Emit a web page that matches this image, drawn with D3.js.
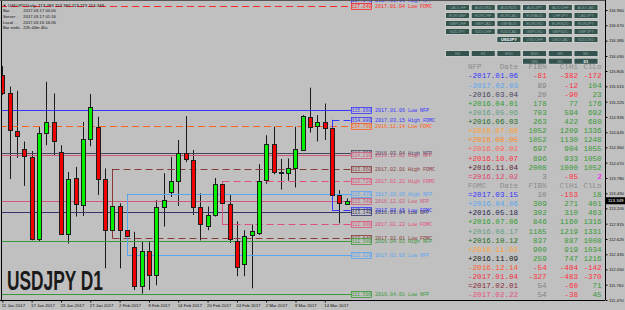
<!DOCTYPE html>
<html><head><meta charset="utf-8">
<script src="https://cdn.jsdelivr.net/npm/d3@7"></script>
<style>html,body{margin:0;padding:0;background:#c0c0c0;overflow:hidden}svg{display:block}</style>
</head><body>
<svg id="c" width="625" height="310"></svg>
<script>
// ---------- DATA ----------
const dates = ["2017-01-11","2017-01-12","2017-01-13","2017-01-16","2017-01-17","2017-01-18","2017-01-19","2017-01-20","2017-01-23","2017-01-24","2017-01-25","2017-01-26","2017-01-27","2017-01-30","2017-01-31",
"2017-02-01","2017-02-02","2017-02-03","2017-02-06","2017-02-07","2017-02-08","2017-02-09","2017-02-10","2017-02-13","2017-02-14","2017-02-15","2017-02-16","2017-02-17","2017-02-20","2017-02-21","2017-02-22","2017-02-23","2017-02-24","2017-02-27","2017-02-28",
"2017-03-01","2017-03-02","2017-03-03","2017-03-06","2017-03-07","2017-03-08","2017-03-09","2017-03-10","2017-03-13","2017-03-14","2017-03-15","2017-03-16","2017-03-17"];
const open  = [115.73,115.39,114.67,114.33,114.18,112.62,114.63,114.84,114.28,112.72,113.78,113.27,114.51,114.75,113.76,112.79,113.25,112.79,112.48,111.73,112.40,111.94,113.24,113.51,113.72,114.25,114.12,113.24,112.87,113.08,113.66,113.28,112.59,112.15,112.70,112.73,113.74,114.42,113.89,113.88,113.96,114.31,114.94,114.76,114.84,114.72,113.46,113.293];
const high  = [115.90,115.51,115.43,114.47,114.29,114.75,115.60,115.38,114.40,113.89,113.99,114.84,115.37,114.94,113.96,113.95,113.30,113.47,112.76,112.57,112.57,113.36,113.87,114.18,114.50,114.95,114.31,113.49,113.24,113.78,113.72,113.46,112.96,112.79,112.90,114.04,114.59,114.75,114.14,114.15,114.75,114.97,115.49,114.97,115.19,114.88,113.55,113.392];
const low   = [115.35,113.76,114.16,113.63,112.60,112.57,114.40,114.20,112.70,112.54,113.05,113.06,114.38,113.46,112.07,112.64,112.07,112.32,111.66,111.59,111.66,111.75,112.86,113.42,113.25,114.08,113.08,112.60,112.79,113.05,112.90,112.55,111.92,111.92,111.69,112.70,113.67,113.85,113.56,113.73,113.60,114.29,114.64,114.47,114.50,113.17,112.92,113.273];
const close = [115.39,114.69,114.57,114.20,112.62,114.64,114.84,114.48,112.71,113.77,113.28,114.51,115.12,113.77,112.79,113.25,112.79,112.69,111.73,112.40,111.94,113.24,113.36,113.72,114.25,114.14,113.24,112.91,113.08,113.66,113.30,112.62,112.10,112.69,112.78,113.72,114.42,113.90,113.88,113.96,114.32,114.95,114.75,114.84,114.73,113.46,113.30,113.349];

const xTickDates = ["2017-01-11","2017-01-17","2017-01-23","2017-01-27","2017-02-02","2017-02-08","2017-02-14","2017-02-20","2017-02-24","2017-03-02","2017-03-08","2017-03-14"];
const yTicks = [116.960,116.670,116.380,116.090,115.805,115.515,115.225,114.935,114.645,114.360,114.070,113.780,113.490,113.205,112.915,112.625,112.335,112.050,111.760,111.470];
const lastPrice = 113.349;

// event level lines
const lineNames  = ["2017.01.06 High NFP","2017.01.04 Low FOMC","2017.01.06 Low NFP","2017.03.15 High FOMC","2016.12.14 Low FOMC","2016.03.04 High NFP","2016.12.02 High NFP","2017.02.01 High FOMC","2017.02.22 High FOMC","2017.02.03 High NFP","2016.12.02 Low NFP","2017.03.15 Low FOMC","2016.03.04 Low NFP","2017.02.22 Low FOMC","2017.02.01 Low FOMC","2016.04.01 High NFP","2017.02.03 Low NFP","2016.04.01 Low NFP"];
const linePrices = [117.14,117.04,115.06,114.88,114.76,114.25,114.21,113.95,113.72,113.47,113.34,113.17,113.14,112.90,112.64,112.58,112.32,111.59];
const lineStart  = [null,null,null,"2017-03-15",null,null,null,"2017-02-01","2017-02-22","2017-02-03",null,"2017-03-15",null,"2017-02-22","2017-02-01",null,"2017-02-03",null];
// styles for lines
const lineColors = ["#3535ff","#ff2a2a","#3535ff","#3535ff","#ff6420","#45455f","#d05878","#8b3a3a","#e0507a","#5aa5f0","#d05878","#3535ff","#34346a","#e0507a","#8b3a3a","#3a9a3a","#5aa5f0","#3a9a3a"];
const lineDashed = [false,true,false,true,true,false,false,true,true,false,false,true,false,true,true,false,false,false];

// table
const nfpDates  = ["-2017.01.06","-2017.02.03","-2016.03.04","+2016.04.01","+2016.05.06","+2016.06.03","+2016.07.08","+2016.08.05","+2016.09.02","+2016.10.07","+2016.11.04","=2016.12.02"];
const nfpFib    = [-81,89,20,178,703,263,1052,1052,697,896,2008,3];
const nfpClHi   = [-382,-12,-90,77,594,422,1209,1130,904,933,1000,-85];
const nfpClLo   = [-172,104,23,176,692,680,1336,1248,1055,1050,1052,2];
const fomcDates = ["=2017.03.15","+2016.04.06","+2016.05.18","+2016.07.06","+2016.08.17","+2016.10.12","+2016.11.02","+2016.11.09","-2016.12.14","-2017.01.04","=2017.02.01","-2017.02.22"];
const fomcFib   = [10,309,302,846,1185,837,900,259,-54,-327,54,54];
const fomcClHi  = [-153,271,310,1160,1219,887,919,747,-404,-483,-60,-38];
const fomcClLo  = [18,401,463,1316,1331,1008,1034,1216,-142,-370,71,45];
const tableHeaders = ["Date","FIB%","ClHi","ClLo"];
// colors of the date entries
const nfpColors  = ["#3535ff","#5aa5f0","#45455f","#2e9e2e","#5f9f7f","#1f6f1f","#ffa030","#ff8c1a","#ff6a5a","#ff3040","#5a2838","#e0406a"];
const fomcColors = ["#3535ff","#5aa5f0","#2a2a50","#2e9e2e","#5f9f7f","#1f6f1f","#ffa030","#1a1a1a","#ff5a30","#f03040","#8b2a3a","#e8507a"];

// buttons
const pairRows = [["CADCHF","AUDUSD","AUDNZD","AUDJPY","AUDCHF","AUDCAD"],["EURGBP","EURCHF","EURCAD","EURAUD","CHFJPY","CADJPY"],["GBPCHF","GBPCAD","GBPAUD","EURUSD","EURNZD","EURJPY"],["NZDJPY","NZDCHF","NZDCAD","GBPUSD","GBPNZD","GBPJPY"],[null,null,"USDJPY","USDCHF","USDCAD","NZDUSD"]];
const tfRows = [["H4","H1","M30","M15","M5","M1"],[null,null,null,"MN","W1","D1"]];
const selected = ["USDJPY","D1"];

const headerLine = "USDJPY,Daily: 113.293 113.392 113.273 113.349";
const infoKeys = ["Bar","Server","Local","Bar ends"];
const infoVals = ["2017.03.17 00:00","2017.03.17 01:16","2017.03.16 16:05","22h 44m 40s"];

// ---------- DRAW ----------
const svg = d3.select("#c");
const W = 625, H = 310;
const plotL = 1.5, plotR = 605, plotT = 0, plotB = 300;
svg.append("rect").attr("width", W).attr("height", H).attr("fill", "#c0c0c0");

const x = d3.scalePoint().domain(dates).range([2.3, 346.8]);
const y = d3.scaleLinear().domain([111.47, 116.96]).range([300, 10]);
const parse = d3.timeParse("%Y-%m-%d");
const fmtDate = d3.timeFormat("%-d %b %Y");

svg.append("defs").append("clipPath").attr("id", "clip")
  .append("rect").attr("x", plotL + 0.5).attr("y", plotT).attr("width", plotR - plotL - 0.5).attr("height", plotB - plotT);
const plot = svg.append("g").attr("clip-path", "url(#clip)");

const px = d => Math.round(x(d)) + 0.5;
const bars = dates.map((d, i) => ({d, o: open[i], h: high[i], l: low[i], c: close[i]}));

// wicks
plot.append("g").selectAll("line").data(bars).join("line")
  .attr("x1", b => px(b.d)).attr("x2", b => px(b.d))
  .attr("y1", b => y(b.h)).attr("y2", b => y(b.l))
  .attr("stroke", "#1a1a1a").attr("stroke-width", 1);

// event lines
const lines = lineNames.map((n, i) => ({n, p: linePrices[i], s: lineStart[i], col: lineColors[i], dash: lineDashed[i]}));
const lineEnd = 351;
plot.append("g").selectAll("line").data(lines).join("line")
  .attr("x1", l => l.s ? px(l.s) : 0).attr("x2", lineEnd)
  .attr("y1", l => Math.round(y(l.p)) + 0.5).attr("y2", l => Math.round(y(l.p)) + 0.5)
  .attr("stroke", l => l.col).attr("stroke-width", 1)
  .attr("stroke-dasharray", l => l.dash ? "7,4" : null);
// connectors for events inside the chart
const groups = d3.groups(lines.filter(l => l.s), l => l.s);
plot.append("g").selectAll("line").data(groups).join("line")
  .attr("x1", g => px(g[0])).attr("x2", g => px(g[0]))
  .attr("y1", g => Math.round(y(d3.max(g[1], l => l.p))) + 0.5)
  .attr("y2", g => Math.round(y(d3.min(g[1], l => l.p))) + 0.5)
  .attr("stroke", g => g[1][0].col).attr("stroke-width", 1);

// bodies
plot.append("g").selectAll("rect").data(bars).join("rect")
  .attr("x", b => Math.round(x(b.d)) - 1.5).attr("width", 4)
  .attr("y", b => Math.round(y(Math.max(b.o, b.c))) + 0.5)
  .attr("height", b => Math.max(0.01, Math.round(y(Math.min(b.o, b.c))) - Math.round(y(Math.max(b.o, b.c)))))
  .attr("fill", b => b.c > b.o ? "#00f000" : (b.c < b.o ? "#f00000" : "#000"))
  .attr("stroke", "#1e1e1e").attr("stroke-width", 1);

// line labels
const lab = plot.append("g").selectAll("g").data(lines).join("g")
  .attr("transform", l => `translate(0,${Math.round(y(l.p)) + 0.5})`);
lab.append("rect").attr("x", 351.5).attr("y", -3).attr("width", 20).attr("height", 6)
  .attr("fill", "#c0c0c0").attr("stroke", l => l.col).attr("stroke-width", 0.8);
lab.append("text").attr("x", 361.5).attr("y", 1.7).attr("text-anchor", "middle")
  .attr("font-family", "Liberation Mono, monospace").attr("font-size", 4.6)
  .attr("fill", l => l.col).text(l => d3.format(".3f")(l.p));
lab.append("text").attr("x", 375).attr("y", 1.7)
  .attr("font-family", "Liberation Mono, monospace").attr("font-size", 5)
  .attr("fill", l => l.col).text(l => l.n);

// big symbol text
svg.append("text").attr("x", 7).attr("y", 290)
  .attr("font-family", "Liberation Sans, Arial, sans-serif").attr("font-weight", "bold")
  .attr("font-size", 27).attr("textLength", 96).attr("lengthAdjust", "spacingAndGlyphs")
  .attr("fill", "#1a1a1a").text("USDJPY D1");

// header info
const hdr = svg.append("g").attr("font-family", "Liberation Sans, Arial, sans-serif").attr("font-size", 4.2).attr("fill", "#111");
hdr.append("text").attr("x", 2.5).attr("y", 7).attr("font-size", 4).text("▼");
hdr.append("text").attr("x", 8).attr("y", 7).attr("textLength", 96).attr("lengthAdjust", "spacingAndGlyphs").text(headerLine);
infoKeys.forEach((k, i) => {
  const yy = 12.3 + i * 5.6;
  hdr.append("text").attr("x", 3).attr("y", yy).text(k);
  hdr.append("text").attr("x", 3 + k.length * 2.2).attr("y", yy).attr("fill", "#888").text(".".repeat(Math.max(2, 9 - k.length)));
  hdr.append("text").attr("x", 23.3).attr("y", yy).text(infoVals[i]);
});

// frame
svg.append("line").attr("x1", plotL).attr("x2", plotL).attr("y1", 0).attr("y2", plotB).attr("stroke", "#000");
svg.append("line").attr("x1", 0).attr("x2", plotR).attr("y1", 0.5).attr("y2", 0.5).attr("stroke", "#555");

// y axis
const yAxis = svg.append("g").attr("transform", `translate(${plotR + 0.5},0)`)
  .call(d3.axisRight(y).tickValues(yTicks).tickFormat(d3.format(".3f")).tickSize(2).tickPadding(1.5));
yAxis.select(".domain").attr("stroke", "#000").attr("d", `M0,0V${plotB}`);
yAxis.selectAll(".tick line").attr("stroke", "#000");
yAxis.selectAll(".tick text").attr("font-family", "Liberation Sans, Arial, sans-serif").attr("font-size", 4.2).attr("fill", "#111");
// current price box
const cy = y(lastPrice);
svg.append("rect").attr("x", plotR + 1).attr("y", cy - 3.5).attr("width", 19).attr("height", 7).attr("fill", "#000");
svg.append("text").attr("x", plotR + 3).attr("y", cy + 1.6).attr("font-family", "Liberation Sans, Arial, sans-serif")
  .attr("font-size", 4.4).attr("fill", "#fff").text(d3.format(".3f")(lastPrice));

// x axis
const xAxis = svg.append("g").attr("transform", `translate(0,${plotB + 0.5})`)
  .call(d3.axisBottom(x).tickValues(xTickDates).tickFormat(d => fmtDate(parse(d))).tickSize(2).tickPadding(1));
xAxis.select(".domain").attr("stroke", "#000").attr("d", `M0,0H${plotR}`);
xAxis.selectAll(".tick line").attr("stroke", "#000");
xAxis.selectAll(".tick text").attr("text-anchor", "start").attr("x", -1).attr("dy", "0.71em")
  .attr("font-family", "Liberation Sans, Arial, sans-serif").attr("font-size", 4.3).attr("fill", "#111");

// buttons
const btn = svg.append("g").attr("font-family", "Liberation Sans, Arial, sans-serif").attr("font-size", 4);
function drawButtons(rows, y0, step) {
  rows.forEach((row, r) => row.forEach((name, c) => {
    if (!name) return;
    const bx = 445 + c * 25.7, by = y0 + r * step;
    btn.append("rect").attr("x", bx + 0.5).attr("y", by + 0.5).attr("width", 24).attr("height", 6)
      .attr("fill", "#34524e").attr("stroke", "#d8dcd8").attr("stroke-width", 0.8);
    const sel = selected.includes(name);
    btn.append("text").attr("x", bx + 12.5).attr("y", by + 5).attr("text-anchor", "middle")
      .attr("fill", sel ? "#ffffff" : "#8aa4a0").attr("font-weight", sel ? "bold" : null).text(name);
  }));
}
drawButtons(pairRows, 4, 8);
drawButtons(tfRows, 50, 7.7);

// table
const tbl = svg.append("g").attr("font-family", "Liberation Mono, Courier New, monospace").attr("font-size", 7.6);
const colX = [518, 546.7, 578, 601.7];
const rowY = i => 66.7 + i * 9.12;
const numColor = (v, kind) => {
  if (kind === "lo" && Math.abs(v) < 5) return "#ff00ff";
  if (v < 0) return "#ff3040";
  if (kind === "fib" && v < 100) return "#808080";
  return "#3a9a3a";
};
function section(title, ds, fib, hi, lo, cols, start) {
  tbl.append("text").attr("x", 468).attr("y", rowY(start)).attr("dy", "0.35em").attr("fill", "#8c8c8c").text(title);
  tableHeaders.forEach((h, j) => tbl.append("text").attr("x", colX[j]).attr("y", rowY(start)).attr("dy", "0.35em")
    .attr("text-anchor", "end").attr("fill", "#8c8c8c").text(h));
  ds.forEach((d, i) => {
    const yy = rowY(start + 1 + i);
    tbl.append("text").attr("x", 468).attr("y", yy).attr("dy", "0.35em").attr("fill", cols[i]).text(d);
    [[fib[i], "fib"], [hi[i], "hi"], [lo[i], "lo"]].forEach(([v, k], j) =>
      tbl.append("text").attr("x", colX[j + 1]).attr("y", yy).attr("dy", "0.35em").attr("text-anchor", "end")
        .attr("fill", numColor(v, k)).text(v));
  });
}
section("NFP", nfpDates, nfpFib, nfpClHi, nfpClLo, nfpColors, 0);
section("FOMC", fomcDates, fomcFib, fomcClHi, fomcClLo, fomcColors, 13);
</script>
</body></html>
